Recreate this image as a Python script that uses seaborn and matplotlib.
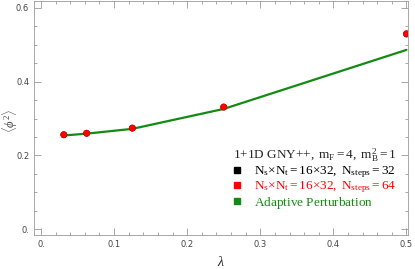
import numpy as np
import pandas as pd
import matplotlib
matplotlib.use("Agg")
import matplotlib.pyplot as plt
from matplotlib.lines import Line2D
from matplotlib.ticker import MultipleLocator, FuncFormatter
import seaborn as sns

# data
lam = [0.03125, 0.0625, 0.125, 0.25, 0.5]
phi2_steps32 = [0.256, 0.260, 0.274, 0.331, 0.529]
phi2_steps64 = [0.256, 0.260, 0.274, 0.331, 0.530]
phi2_adaptive = [0.254, 0.259, 0.272, 0.326, 0.486]

df = pd.DataFrame({"lam": lam, "s32": phi2_steps32, "s64": phi2_steps64, "ap": phi2_adaptive})

sns.set_style("ticks")
plt.rcParams["font.family"] = ["DejaVu Sans"]
plt.rcParams["mathtext.fontset"] = "custom"
plt.rcParams["mathtext.rm"] = "Liberation Serif"
plt.rcParams["mathtext.it"] = "Liberation Serif:italic"

green = "#138a13"
fig = plt.figure(figsize=(4.15, 2.69), dpi=100)
ax = fig.add_axes([0.082, 0.126, 0.901, 0.871])

sns.lineplot(data=df, x="lam", y="ap", color=green, lw=1.6, ax=ax)
sns.scatterplot(data=df, x="lam", y="s32", color="black", s=24, edgecolor="none", ax=ax, zorder=3)
sns.scatterplot(data=df, x="lam", y="s64", color="red", s=24, edgecolor="none", ax=ax, zorder=4)

ax.set_xlim(-0.0095, 0.502)
ax.set_ylim(-0.016, 0.619)
ax.xaxis.set_major_locator(MultipleLocator(0.1))
ax.xaxis.set_minor_locator(MultipleLocator(0.02))
ax.yaxis.set_major_locator(MultipleLocator(0.2))
ax.yaxis.set_minor_locator(MultipleLocator(0.05))
fmt = FuncFormatter(lambda v, p: "0." if abs(v) < 1e-9 else ("%.1f" % v))
ax.xaxis.set_major_formatter(fmt)
ax.yaxis.set_major_formatter(fmt)
ax.tick_params(which="both", direction="in", top=True, right=True, colors="#999999",
               labelcolor="#444444", labelsize=6, width=0.6)
ax.tick_params(which="major", length=5)
ax.tick_params(which="minor", length=2.5)
for sp in ax.spines.values():
    sp.set_color("#999999")
    sp.set_linewidth(0.6)

ax.set_xlabel(r"$\mathit{\lambda}$", fontsize=10, labelpad=4)
ax.set_ylabel(r"$\langle \mathit{\phi}^2\rangle$", fontsize=9, color="#444444")
ax.yaxis.set_label_coords(-0.038, 0.49)

handles = [
    Line2D([], [], marker="s", ls="none", color="black", ms=5),
    Line2D([], [], marker="s", ls="none", color="red", ms=5),
    Line2D([], [], marker="s", ls="none", color=green, ms=5),
]
labels = [
    r"$\mathrm{N_s{\times}N_t{=}16{\times}32,\ N_{steps}{=}32}$",
    r"$\mathrm{N_s{\times}N_t{=}16{\times}32,\ N_{steps}{=}64}$",
    r"$\mathrm{Adaptive\ Perturbation}$",
]
leg = ax.legend(handles, labels, loc="lower right", bbox_to_anchor=(0.995, 0.065),
                frameon=False, fontsize=9.5, handletextpad=1.0, handlelength=0.6,
                labelspacing=-0.05, borderaxespad=0.3,
                title=r"$\mathrm{1{+}1D\ GNY{+}{+},\ m_F{=}4,\ m_B^2{=}1}$",
                title_fontsize=9.5, labelcolor=["black", "red", green])
leg._legend_box.sep = 0

fig.savefig("out.png", dpi=100)
